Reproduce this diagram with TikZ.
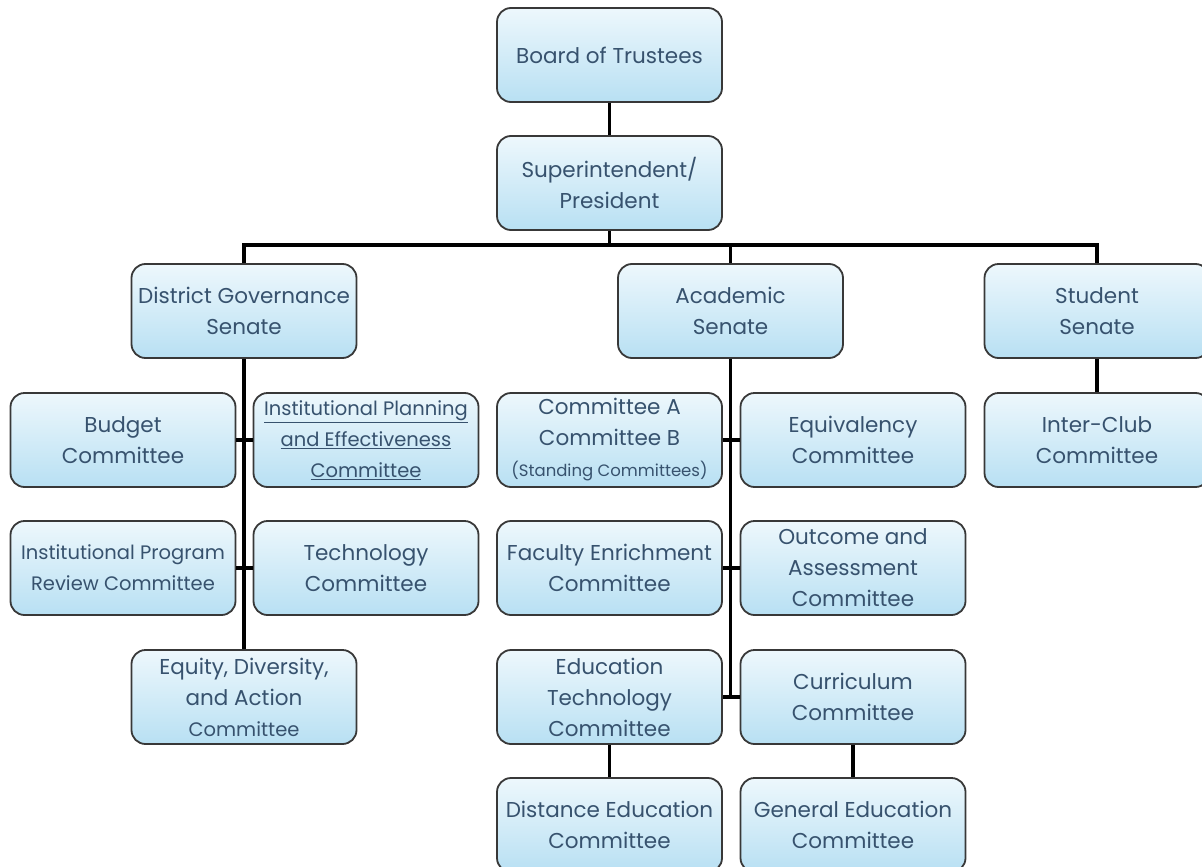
\documentclass[tikz,border=0pt]{standalone}
\usepackage{fontspec}
\setmainfont{Poppins}
\usepackage{tikz}

\definecolor{unittext}{RGB}{55,82,110}
\definecolor{unitblue}{RGB}{184,224,243}
\tikzset{
  unit/.style={draw=black!78, line width=1.8pt, rounded corners=14pt,
    minimum width=225pt, minimum height=94pt, inner sep=0pt,
    top color=unitblue!25, middle color=unitblue!88, bottom color=unitblue,
    text=unittext, align=center, font=\fontsize{21.5}{31}\selectfont},
  small/.style={font=\fontsize{19.5}{31}\selectfont},
  link/.style={line width=3.2pt}
}

\begin{document}
\begin{tikzpicture}[x=1pt,y=-1pt]
  \useasboundingbox (0,0) rectangle (1202,867);
  \clip (0,0) rectangle (1202,867);

  \node [unit] (board)   at (609.5,55)  {Board of Trustees};
  \node [unit] (pres)    at (609.5,183) {Superintendent/\\President};
  \node [unit] (dgs)     at (244,311)   {District Governance\\Senate};
  \node [unit] (acad)    at (730.5,311) {Academic\\Senate};
  \node [unit] (student) at (1097,311)  {Student\\Senate};

  \node [unit] (budget)  at (123,440)   {Budget\\Committee};
  \node [unit,small] (ipe) at (366,440) {\underline{Institutional Planning}\\\underline{and Effectiveness}\\\underline{Committee}};
  \node [unit,small] (ipr) at (123,568) {Institutional Program\\Review Committee};
  \node [unit] (tech)    at (366,568)   {Technology\\Committee};
  \node [unit] (equity)  at (244,697)   {Equity, Diversity,\\and Action\\{\fontsize{19.5}{31}\selectfont Committee}};

  \node [unit] (standing) at (609.5,440) {Committee A\\Committee B\\{\fontsize{16.5}{31}\selectfont (Standing Committees)}};
  \node [unit] (equiv)   at (853,440)   {Equivalency\\Committee};
  \node [unit] (faculty) at (609.5,568) {Faculty Enrichment\\Committee};
  \node [unit] (outcome) at (853,568)   {Outcome and\\Assessment\\Committee};
  \node [unit] (edtech)  at (609.5,697) {Education\\Technology\\Committee};
  \node [unit] (curric)  at (853,697)   {Curriculum\\Committee};
  \node [unit] (distance) at (609.5,825) {Distance Education\\Committee};
  \node [unit] (gened)   at (853,825)   {General Education\\Committee};

  \node [unit] (interclub) at (1097,440) {Inter-Club\\Committee};

  \coordinate (bus) at (0,245);
  \draw [link] (board) -- (pres);
  \draw [link] (pres) -- (pres |- bus);
  \draw [link] (dgs.north) -- (dgs.north |- bus) -- (student.north |- bus) -- (student.north);
  \draw [link] (acad) -- (acad |- bus);

  \draw [link] (dgs) -- (equity);
  \draw [link] (budget) -- (ipe);
  \draw [link] (ipr) -- (tech);

  \draw [link] (acad) -- (acad |- edtech);
  \draw [link] (standing) -- (equiv);
  \draw [link] (faculty) -- (outcome);
  \draw [link] (edtech) -- (curric);
  \draw [link] (edtech) -- (distance);
  \draw [link] (curric) -- (gened);

  \draw [link] (student) -- (interclub);
\end{tikzpicture}
\end{document}
